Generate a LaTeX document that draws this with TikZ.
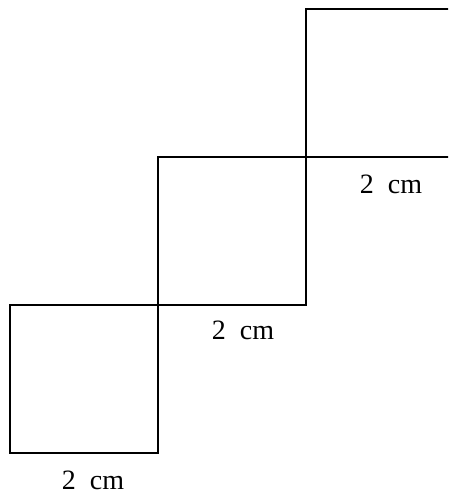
\documentclass[tikz,border=0pt]{standalone}
\usepackage{fontspec}
\setmainfont{Liberation Serif}

\begin{document}
\begin{tikzpicture}[x=1pt, y=1pt,
    sq/.style={draw, line width=2.2pt, minimum size=148pt, inner sep=0pt, outer sep=0pt, anchor=south west},
    lbl/.style={font=\fontsize{28}{32}\selectfont}]
        \useasboundingbox (0,0) rectangle (448,498);
        \clip (0,0) rectangle (448,498);
        \node[sq] (s1) at (10,45) {};
        \node[sq] (s2) at (s1.north east) {};
        \node[sq] (s3) at (s2.north east) {};
        \node[lbl] (l1) at ([xshift=9pt, yshift=-27pt]s1.south) {2\enspace cm};
        \node[lbl] (l2) at ([xshift=11pt, yshift=-25pt]s2.south) {2\enspace cm};
        \node[lbl] (l3) at ([xshift=11pt, yshift=-27pt]s3.south) {2\enspace cm};
    \end{tikzpicture}
\end{document}
